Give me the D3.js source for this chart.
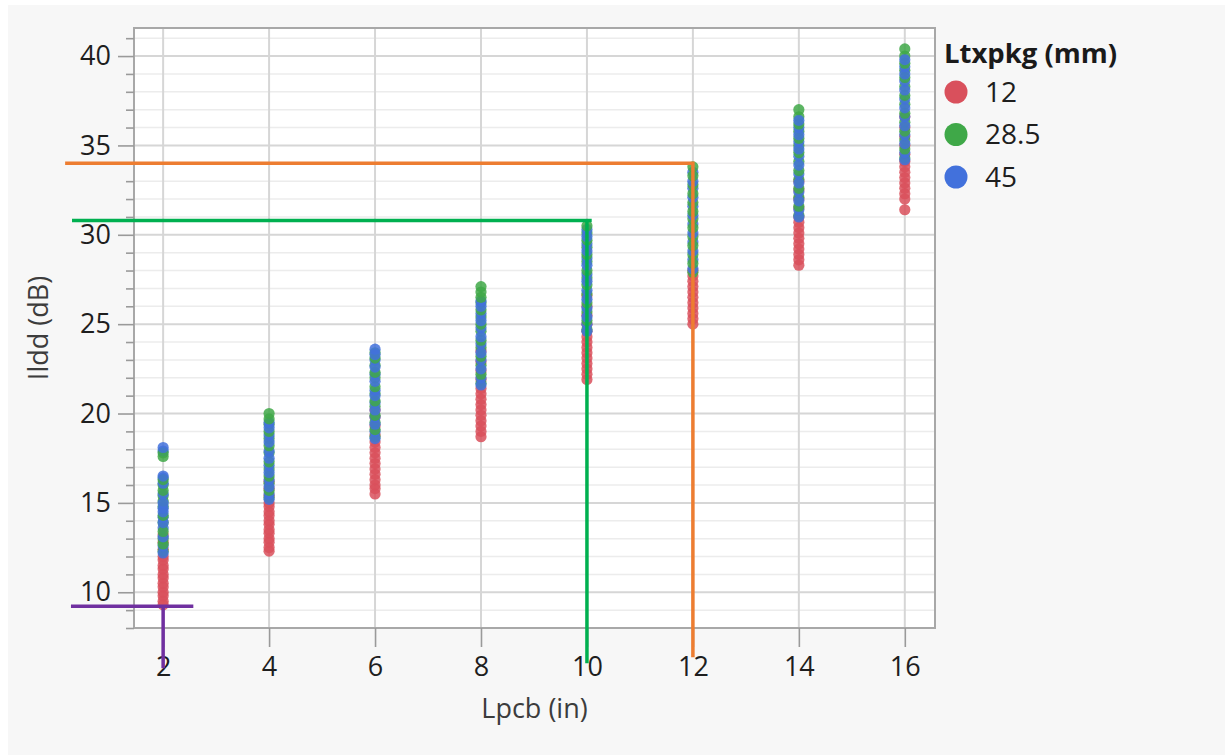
<!DOCTYPE html>
<html>
<head>
<meta charset="utf-8">
<script src="https://cdn.jsdelivr.net/npm/d3@7"></script>
<style>
  html, body { margin: 0; padding: 0; background: #ffffff; }
  svg { display: block; }
  text { font-family: "Open Sans", "Noto Sans", sans-serif; }
</style>
</head>
<body>
<svg id="chart" width="1225" height="755"></svg>
<script>
// Insertion loss (Ildd) versus PCB trace length, grouped by package trace length.
const lpcb = [2, 4, 6, 8, 10, 12, 14, 16];
const ltxLevels = ["12", "28.5", "45"];

// Ildd values (dB) per Lpcb column, one list for each Ltxpkg level
const ildd12 = [
  [9.3, 9.5, 9.8, 10.0, 10.3, 10.5, 10.8, 11.0, 11.3, 11.5, 11.8, 12.0, 12.4, 12.8, 13.2],
  [12.3, 12.5, 12.8, 13.0, 13.3, 13.5, 13.8, 14.0, 14.3, 14.5, 14.8, 15.0, 15.4, 15.8, 16.2],
  [15.5, 15.8, 16.0, 16.3, 16.6, 16.9, 17.2, 17.5, 17.8, 18.1, 18.4, 18.8, 19.3, 19.8, 20.2],
  [18.7, 19.0, 19.3, 19.6, 19.9, 20.2, 20.5, 20.8, 21.1, 21.4, 21.9, 22.4, 22.9, 23.5],
  [21.9, 22.2, 22.5, 22.8, 23.1, 23.4, 23.7, 24.0, 24.3, 24.6, 25.0, 25.5, 26.0, 26.6],
  [25.0, 25.3, 25.6, 25.9, 26.2, 26.5, 26.8, 27.1, 27.4, 27.7, 28.0],
  [28.3, 28.6, 28.9, 29.2, 29.5, 29.8, 30.1, 30.4, 30.7, 31.0, 31.5, 32.0, 32.5, 33.0],
  [31.4, 32.0, 32.3, 32.6, 32.9, 33.2, 33.5, 33.8, 34.1, 34.5, 35.0, 35.5, 36.0, 36.6]
];
const ildd285 = [
  [12.3, 12.7, 13.0, 13.4, 13.9, 14.3, 14.8, 15.1, 15.4, 15.7, 16.0, 16.3, 17.6, 17.8],
  [15.3, 15.7, 16.1, 16.5, 16.9, 17.3, 17.8, 18.2, 18.6, 19.0, 19.4, 19.7, 20.0],
  [18.7, 19.1, 19.5, 19.9, 20.4, 20.7, 21.1, 21.5, 22.0, 22.3, 22.7, 23.1, 23.4],
  [21.7, 22.2, 22.7, 23.2, 23.7, 24.1, 24.6, 25.0, 25.4, 25.8, 26.2, 26.5, 26.8, 27.1],
  [24.7, 25.2, 25.7, 26.2, 26.7, 27.2, 27.6, 28.0, 28.5, 28.9, 29.3, 29.7, 30.1, 30.5],
  [27.9, 28.4, 28.9, 29.4, 29.9, 30.4, 30.9, 31.3, 31.8, 32.3, 32.8, 33.3, 33.8],
  [31.1, 31.6, 32.1, 32.6, 33.1, 33.6, 34.1, 34.6, 35.0, 35.4, 35.8, 36.2, 36.6, 37.0],
  [34.3, 34.8, 35.3, 35.8, 36.3, 36.8, 37.3, 37.8, 38.3, 38.8, 39.2, 39.6, 40.0, 40.4]
];
const ildd45 = [
  [12.2, 12.6, 13.1, 13.6, 13.9, 14.2, 14.5, 14.7, 15.0, 15.5, 16.1, 16.4, 16.5, 17.9, 18.1],
  [15.2, 15.5, 15.9, 16.3, 16.7, 17.1, 17.5, 17.9, 18.4, 18.8, 19.2, 19.5],
  [18.6, 19.0, 19.4, 19.8, 20.2, 20.6, 21.0, 21.3, 21.8, 22.2, 22.6, 23.0, 23.3, 23.6],
  [21.6, 22.0, 22.5, 23.0, 23.4, 23.9, 24.3, 24.8, 25.2, 25.6, 26.0, 26.3],
  [24.6, 25.0, 25.4, 25.9, 26.4, 26.9, 27.4, 27.8, 28.3, 28.7, 29.1, 29.5, 29.9, 30.3],
  [28.1, 28.6, 29.1, 29.6, 30.1, 30.6, 31.1, 31.6, 32.1, 32.6, 33.0, 33.5],
  [31.0, 31.4, 31.9, 32.4, 32.9, 33.4, 33.9, 34.4, 34.8, 35.2, 35.6, 36.0, 36.4],
  [34.2, 34.6, 35.1, 35.6, 36.1, 36.6, 37.1, 37.6, 38.1, 38.6, 39.0, 39.4, 39.8]
];

const xTicks = [2, 4, 6, 8, 10, 12, 14, 16];
const yTicks = [10, 15, 20, 25, 30, 35, 40];
const yMinorTicks = d3.range(8, 42);

// Guide lines: horizontal from xFrom to xTo at y, then vertical at x down to yTo
const guideX = [12, 10, 2];
const guideY = [34, 30.8, 9.22];
const guideXFrom = [0.15, 0.28, 0.26];
const guideXTo = [12, 10.09, 2.57];
const guideYTo = [6.36, 6.03, 5.75];
const guideColors = ["#ed7d31", "#00b050", "#7030a0"];

const groupColors = ["#d9505c", "#3fa848", "#4271dc"];

const svg = d3.select("#chart");
const W = 1225, H = 755;
const plot = { left: 134, top: 28, right: 935, bottom: 628 };

svg.append("rect").attr("x", 8).attr("y", 5).attr("width", W - 8).attr("height", H - 5)
  .attr("fill", "#f7f7f7");

const x = d3.scaleLinear().domain([1.45, 16.57]).range([plot.left, plot.right]);
const y = d3.scaleLinear().domain([8, 41.57]).range([plot.bottom, plot.top]);

// plot background
svg.append("rect")
  .attr("x", plot.left).attr("y", plot.top)
  .attr("width", plot.right - plot.left).attr("height", plot.bottom - plot.top)
  .attr("fill", "#ffffff");

// grid
const grid = svg.append("g");
grid.selectAll(".hminor").data(yMinorTicks.filter(v => v % 5 !== 0)).join("line")
  .attr("x1", plot.left).attr("x2", plot.right)
  .attr("y1", d => y(d)).attr("y2", d => y(d))
  .attr("stroke", "#ececec").attr("stroke-width", 1.5);
grid.selectAll(".hmajor").data(yTicks).join("line")
  .attr("x1", plot.left).attr("x2", plot.right)
  .attr("y1", d => y(d)).attr("y2", d => y(d))
  .attr("stroke", "#d6d6d6").attr("stroke-width", 2);
grid.selectAll(".vmajor").data(xTicks).join("line")
  .attr("y1", plot.top).attr("y2", plot.bottom)
  .attr("x1", d => x(d)).attr("x2", d => x(d))
  .attr("stroke", "#d6d6d6").attr("stroke-width", 2);

// points: the 12 mm group underneath, then 28.5 and 45 mm alternating on top
const points = [];
lpcb.forEach((lp, i) => {
  ildd12[i].forEach(v => points.push({ x: lp, y: v, g: 0 }));
});
lpcb.forEach((lp, i) => {
  const n = Math.max(ildd285[i].length, ildd45[i].length);
  for (let k = 0; k < n; k++) {
    const pair = [[1, ildd285[i][k]], [2, ildd45[i][k]]];
    if (k % 2 === 1) pair.reverse();
    pair.forEach(([g, v]) => { if (v !== undefined) points.push({ x: lp, y: v, g }); });
  }
});
svg.append("g").selectAll("circle").data(points).join("circle")
  .attr("cx", d => x(d.x)).attr("cy", d => y(d.y)).attr("r", 5.6)
  .attr("fill", d => groupColors[d.g]).attr("fill-opacity", 0.85);

// frame
svg.append("rect")
  .attr("x", plot.left).attr("y", plot.top)
  .attr("width", plot.right - plot.left).attr("height", plot.bottom - plot.top)
  .attr("fill", "none").attr("stroke", "#a8a8a8").attr("stroke-width", 2);

// axes
const yAxis = svg.append("g").attr("transform", `translate(${plot.left},0)`)
  .call(d3.axisLeft(y).tickValues(yTicks).tickSize(16).tickPadding(7));
const yMinor = svg.append("g").attr("transform", `translate(${plot.left},0)`)
  .call(d3.axisLeft(y).tickValues(yMinorTicks.filter(v => v % 5 !== 0)).tickSize(8).tickFormat(""));
const xAxis = svg.append("g").attr("transform", `translate(0,${plot.bottom})`)
  .call(d3.axisBottom(x).tickValues(xTicks).tickSize(19).tickPadding(10));

[yAxis, yMinor, xAxis].forEach(a => {
  a.select(".domain").remove();
  a.selectAll(".tick line").attr("stroke", "#9a9a9a").attr("stroke-width", 1.6);
  a.selectAll(".tick text").attr("font-size", 27).attr("fill", "#1e1e1e")
    .attr("font-family", "'Open Sans', sans-serif");
});

// axis titles
svg.append("text").attr("x", (plot.left + plot.right) / 2).attr("y", 718)
  .attr("text-anchor", "middle").attr("font-size", 27).attr("fill", "#3c3c3c")
  .text("Lpcb (in)");
svg.append("text").attr("transform", `translate(48,${(plot.top + plot.bottom) / 2}) rotate(-90)`)
  .attr("text-anchor", "middle").attr("font-size", 27).attr("fill", "#3c3c3c")
  .text("Ildd (dB)");

// guide lines
const guides = svg.append("g").attr("fill", "none").attr("stroke-width", 3.5);
guideX.forEach((gx, i) => {
  guides.append("path")
    .attr("d", `M${x(guideXFrom[i])},${y(guideY[i])}H${x(guideXTo[i])}` +
               `M${x(gx)},${y(guideY[i]) - 1.75}V${y(guideYTo[i])}`)
    .attr("stroke", guideColors[i]);
});

// legend
const legend = svg.append("g");
legend.append("text").attr("x", 944).attr("y", 63)
  .attr("font-size", 27.5).attr("font-weight", "bold").attr("fill", "#1a1a1a")
  .text("Ltxpkg (mm)");
ltxLevels.forEach((lv, i) => {
  const cy = 92 + i * 42.5;
  legend.append("circle").attr("cx", 956).attr("cy", cy).attr("r", 11.5)
    .attr("fill", groupColors[i]);
  legend.append("text").attr("x", 985).attr("y", cy).attr("dy", "0.35em")
    .attr("font-size", 28).attr("fill", "#1e1e1e").text(lv);
});
</script>
</body>
</html>
